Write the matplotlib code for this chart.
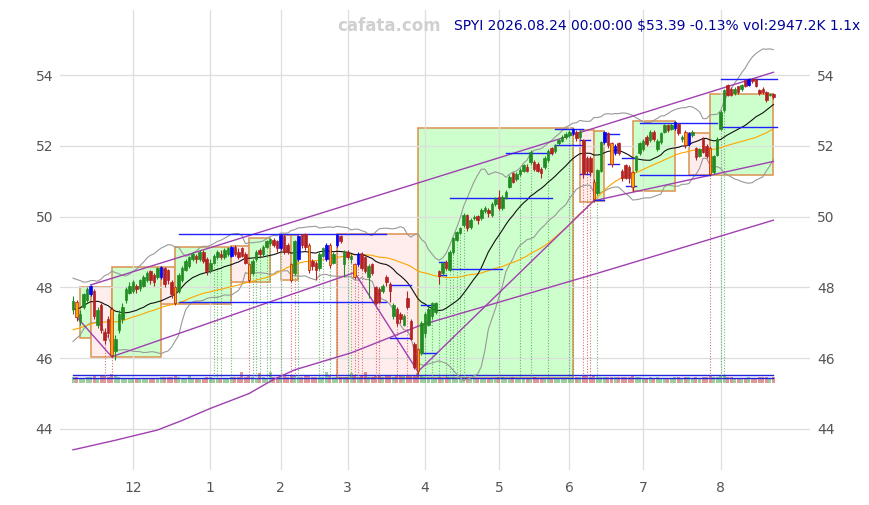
import matplotlib
matplotlib.use("Agg")
import matplotlib.pyplot as plt
from matplotlib.patches import Rectangle
import numpy as np
import pandas as pd

# ---------------- data ----------------
title_text = "SPYI 2026.08.24 00:00:00 $53.39 -0.13% vol:2947.2K 1.1x"
watermark = "cafata.com"
last_day = "2026-08-24"
n_sessions = 200
holidays = ["2025-11-27", "2025-12-25", "2026-01-01", "2026-01-19", "2026-02-16",
            "2026-04-03", "2026-05-25", "2026-06-19", "2026-07-03"]

opens = [
    47.40, 47.60, 47.05, 47.45, 47.65, 47.80, 47.90, 46.95, 47.50, 46.75,
    47.10, 47.40, 46.20, 46.80, 47.10, 47.65, 47.85, 47.90, 48.05, 47.98,
    48.05, 48.20, 48.45, 48.35, 48.30, 48.30, 48.55, 48.50, 48.15, 48.00,
    47.90, 48.20, 48.50, 48.60, 48.80, 48.90, 48.80, 49.00, 48.80, 48.50,
    48.70, 48.85, 48.95, 48.85, 48.95, 48.90, 49.15, 49.00, 49.10, 48.95,
    48.65, 48.40, 48.80, 49.05, 48.95, 49.15, 49.25, 49.35, 49.30, 49.10,
    49.45, 49.20, 48.65, 48.40, 48.80, 49.50, 49.50, 49.20, 48.75, 48.70,
    48.55, 48.90, 48.80, 49.20, 48.70, 49.20, 49.45, 48.65, 49.00, 48.80,
    48.65, 48.65, 48.95, 48.85, 48.30, 48.65, 48.00, 47.95, 47.90, 48.30,
    48.10, 47.20, 47.40, 47.25, 46.95, 47.70, 47.05, 46.40, 46.25, 46.15,
    46.70, 46.95, 47.20, 47.30, 48.45, 48.40, 48.73, 48.50, 49.00, 49.34,
    49.53, 49.76, 50.05, 49.70, 49.95, 50.02, 49.95, 50.15, 50.20, 50.05,
    50.35, 50.55, 50.25, 50.55, 50.85, 51.22, 51.05, 51.20, 51.30, 51.40,
    51.55, 51.55, 51.50, 51.36, 51.41, 51.60, 51.93, 51.85, 52.07, 52.15,
    52.25, 52.30, 52.35, 52.40, 52.25, 52.16, 51.65, 51.65, 50.99, 50.66,
    51.30, 52.12, 52.35, 52.07, 51.80, 52.07, 51.30, 51.45, 51.40, 51.25,
    51.32, 51.79, 51.90, 52.25, 52.17, 52.40, 51.90, 52.10, 52.40, 52.58,
    52.48, 52.50, 52.62, 52.20, 52.40, 52.05, 52.30, 51.93, 51.72, 52.20,
    52.00, 51.95, 51.25, 51.75, 52.49, 53.01, 53.72, 53.60, 53.50, 53.68,
    53.60, 53.85, 53.72, 53.90, 53.90, 53.58, 53.60, 53.53, 53.44, 53.47,
]
closes = [
    47.62, 47.15, 47.25, 47.80, 47.95, 48.05, 47.20, 47.35, 46.80, 46.50,
    46.70, 46.10, 46.55, 47.25, 47.45, 47.95, 48.05, 48.15, 47.95, 48.20,
    48.30, 48.40, 48.20, 48.15, 48.55, 48.57, 48.10, 48.20, 47.80, 47.55,
    48.35, 48.55, 48.75, 48.85, 48.95, 48.80, 49.00, 48.75, 48.45, 48.70,
    48.90, 49.00, 48.85, 49.05, 49.10, 49.15, 48.95, 48.85, 48.90, 48.70,
    48.20, 48.75, 49.00, 48.95, 49.15, 49.30, 49.38, 49.20, 49.10, 49.48,
    49.00, 49.00, 48.20, 49.30, 49.45, 49.20, 49.15, 48.50, 48.60, 48.50,
    48.95, 49.10, 49.20, 48.63, 48.95, 49.48, 49.30, 49.00, 48.85, 48.90,
    48.30, 48.95, 48.55, 48.45, 48.60, 48.40, 47.55, 47.60, 48.05, 48.15,
    47.90, 47.50, 47.00, 47.10, 47.20, 47.45, 46.55, 45.75, 45.65, 47.00,
    47.25, 47.40, 47.55, 47.55, 48.32, 48.68, 48.54, 49.00, 49.39, 49.57,
    49.67, 50.05, 49.67, 49.90, 50.00, 49.90, 50.20, 50.25, 50.10, 50.35,
    50.50, 50.25, 50.55, 50.70, 51.13, 50.99, 51.20, 51.32, 51.45, 51.30,
    51.83, 51.36, 51.30, 51.22, 51.65, 51.85, 51.80, 52.02, 52.16, 52.26,
    52.33, 52.40, 52.49, 52.21, 52.40, 51.20, 51.30, 51.25, 50.50, 51.32,
    52.10, 52.40, 52.02, 51.50, 52.00, 51.79, 51.08, 51.10, 51.10, 50.85,
    51.70, 52.07, 52.15, 52.05, 52.40, 52.20, 52.15, 52.35, 52.59, 52.45,
    52.60, 52.68, 52.35, 52.25, 52.02, 52.37, 52.40, 51.69, 51.90, 51.83,
    51.70, 51.20, 51.70, 52.20, 52.96, 53.58, 53.44, 53.45, 53.62, 53.52,
    53.72, 53.70, 53.89, 53.82, 53.70, 53.50, 53.52, 53.29, 53.46, 53.39,
]
highs = [
    47.75, 47.65, 47.35, 47.85, 48.00, 48.07, 47.95, 47.45, 47.55, 46.85,
    47.20, 47.45, 46.65, 47.35, 47.55, 48.00, 48.15, 48.20, 48.10, 48.25,
    48.35, 48.45, 48.50, 48.40, 48.58, 48.60, 48.58, 48.52, 48.20, 48.05,
    48.40, 48.60, 48.80, 48.90, 49.00, 48.95, 49.05, 49.05, 48.85, 48.80,
    48.95, 49.05, 49.05, 49.10, 49.15, 49.17, 49.20, 49.10, 49.15, 49.00,
    48.70, 48.80, 49.05, 49.10, 49.20, 49.35, 49.39, 49.40, 49.35, 49.50,
    49.50, 49.25, 48.70, 49.35, 49.48, 49.52, 49.55, 49.25, 48.80, 48.75,
    49.00, 49.15, 49.25, 49.25, 49.00, 49.50, 49.48, 49.05, 49.05, 48.95,
    48.70, 49.00, 49.00, 48.90, 48.65, 48.70, 48.05, 48.00, 48.10, 48.35,
    48.15, 47.55, 47.45, 47.30, 47.25, 47.90, 47.10, 46.45, 46.30, 47.05,
    47.30, 47.45, 47.60, 47.60, 48.50, 48.72, 48.78, 49.05, 49.42, 49.60,
    49.70, 50.10, 50.08, 49.95, 50.05, 50.05, 50.25, 50.30, 50.25, 50.40,
    50.55, 50.75, 50.60, 50.75, 51.18, 51.25, 51.25, 51.38, 51.50, 51.48,
    51.88, 51.60, 51.55, 51.40, 51.70, 51.90, 51.96, 52.05, 52.20, 52.30,
    52.38, 52.45, 52.51, 52.45, 52.45, 52.20, 51.70, 51.70, 51.05, 51.35,
    52.15, 52.43, 52.40, 52.10, 52.05, 52.10, 51.35, 51.50, 51.45, 51.30,
    51.75, 52.10, 52.20, 52.30, 52.45, 52.45, 52.20, 52.40, 52.63, 52.62,
    52.65, 52.70, 52.66, 52.30, 52.45, 52.40, 52.45, 51.98, 51.95, 52.25,
    52.05, 52.00, 51.75, 52.25, 53.00, 53.60, 53.75, 53.65, 53.65, 53.70,
    53.75, 53.88, 53.91, 53.92, 53.92, 53.62, 53.65, 53.56, 53.50, 53.50,
]
lows = [
    47.25, 47.05, 46.95, 47.40, 47.60, 47.75, 47.10, 46.85, 46.70, 46.40,
    46.60, 46.04, 45.95, 46.70, 47.00, 47.55, 47.80, 47.85, 47.85, 47.90,
    48.00, 48.15, 48.10, 48.05, 48.25, 48.25, 48.00, 48.10, 47.70, 47.50,
    47.85, 48.15, 48.45, 48.55, 48.75, 48.70, 48.75, 48.70, 48.35, 48.40,
    48.65, 48.80, 48.80, 48.80, 48.90, 48.85, 48.90, 48.80, 48.85, 48.65,
    48.16, 48.35, 48.75, 48.85, 48.90, 49.10, 49.20, 49.15, 49.00, 49.05,
    48.95, 48.95, 48.15, 48.35, 48.75, 49.10, 49.05, 48.40, 48.50, 48.20,
    48.50, 48.85, 48.75, 48.55, 48.65, 49.15, 49.25, 48.30, 48.80, 48.70,
    48.25, 48.60, 48.50, 48.40, 47.70, 48.35, 47.50, 47.55, 47.85, 48.05,
    47.60, 47.10, 46.90, 47.00, 46.90, 47.40, 46.50, 45.70, 45.55, 46.10,
    46.60, 46.90, 47.10, 47.25, 48.10, 48.35, 48.50, 48.45, 48.95, 49.30,
    49.50, 49.72, 49.60, 49.65, 49.90, 49.80, 49.90, 50.10, 50.00, 50.00,
    50.30, 50.20, 50.20, 50.50, 50.80, 50.95, 51.00, 51.15, 51.25, 51.25,
    51.50, 51.30, 51.25, 51.10, 51.35, 51.55, 51.75, 51.80, 52.02, 52.10,
    52.20, 52.25, 52.30, 52.15, 52.20, 51.10, 51.20, 51.15, 50.42, 50.60,
    51.25, 52.05, 51.95, 51.40, 51.75, 51.75, 51.00, 51.05, 50.95, 50.72,
    51.25, 51.75, 51.85, 52.00, 52.10, 52.15, 51.85, 52.05, 52.35, 52.40,
    52.45, 52.45, 52.30, 52.10, 51.95, 52.00, 52.25, 51.60, 51.68, 51.80,
    51.65, 51.17, 51.20, 51.70, 52.45, 52.95, 53.40, 53.40, 53.45, 53.48,
    53.55, 53.65, 53.68, 53.78, 53.65, 53.45, 53.48, 53.25, 53.40, 53.32,
]
volumes_k = [
    2800, 3100, 2600, 2500, 2900, 3300, 3600, 2700, 3400, 3900,
    3200, 4600, 3500, 2900, 2600, 2400, 2500, 2300, 2200, 2600,
    2400, 2300, 2700, 2500, 2600, 2800, 3100, 2900, 3200, 3500,
    3000, 2700, 2600, 3800, 2500, 2400, 2300, 2600, 2900, 2800,
    2600, 2500, 2700, 2400, 2600, 2800, 3000, 3100, 5800, 3200,
    3400, 3000, 2700, 5200, 2800, 2600, 5600, 2900, 3100, 3300,
    3500, 3000, 3800, 3400, 3100, 3300, 3600, 3900, 3200, 3000,
    2900, 3100, 5900, 3400, 3300, 3200, 3000, 3100, 2800, 5500,
    3600, 3300, 3500, 5700, 3000, 3200, 3900, 3700, 3100, 3400,
    3800, 3300, 4100, 3600, 3400, 3700, 4200, 4400, 5200, 3600,
    3200, 3000, 2800, 2700, 2900, 2600, 2800, 3100, 2900, 2700,
    2600, 2800, 3000, 2500, 2400, 2600, 2700, 2300, 2500, 2600,
    2700, 2900, 2800, 2600, 2700, 2900, 2500, 2400, 2300, 2500,
    2600, 2800, 2700, 2600, 2500, 2400, 2600, 2500, 2300, 2400,
    2500, 2600, 2700, 2900, 2800, 3800, 3400, 3300, 3900, 3000,
    2900, 2800, 3000, 3200, 2900, 3100, 3300, 3000, 3100, 3400,
    2900, 2800, 2700, 2600, 2800, 2700, 2900, 2600, 2500, 2700,
    2600, 2800, 2900, 2700, 3000, 2800, 2600, 2900, 2700, 3000,
    3100, 3500, 2900, 3200, 3600, 3800, 3000, 2800, 2600, 2700,
    2500, 2700, 2800, 2600, 2700, 2900, 2800, 3000, 2700, 2947.2,
]
volume_ref_levels_k = [2500, 4050]
# closes of the 49 sessions before the window (warm-up for the averages)
prior_closes = [
    46.0, 45.9, 46.1, 46.2, 46.0, 46.3, 46.4, 46.2, 46.1, 46.3,
    46.5, 46.4, 46.6, 46.5, 46.3, 46.2, 46.4, 46.6, 46.7, 46.5,
    46.4, 46.6, 46.8, 46.7, 46.5, 46.6, 46.8, 46.9, 46.7, 46.8,
    46.6, 46.7, 46.5, 46.8, 47.0, 47.2, 47.1, 47.4, 47.6, 47.5,
    47.8, 47.9, 47.7, 47.9, 48.0, 47.8, 47.6, 47.4, 47.2,
]
blue_bars = [5, 25, 45, 59, 64, 72, 75, 81, 142, 151, 154, 171, 175, 192]
orange_bars = [1, 11, 29, 50, 62, 67, 73, 80, 98, 148, 153, 159, 174, 181]
# (start index, end index, top, bottom, direction)
boxes = [
    (2, 5, 48.02, 46.56, "up"), (5, 11, 48.02, 46.04, "down"),
    (11, 25, 48.57, 46.04, "up"), (25, 29, 48.57, 47.53, "down"),
    (29, 45, 49.15, 47.53, "up"), (45, 50, 49.17, 48.16, "down"),
    (50, 56, 49.39, 48.16, "up"), (59, 62, 49.48, 48.20, "down"),
    (62, 64, 49.48, 48.20, "up"), (75, 98, 49.50, 45.45, "down"),
    (98, 142, 52.50, 45.45, "up"), (144, 148, 52.45, 50.42, "down"),
    (148, 151, 52.43, 50.45, "up"), (159, 171, 52.70, 50.72, "up"),
    (175, 181, 52.37, 51.17, "down"), (181, 199, 53.48, 51.17, "up"),
]
# (start index, end index, price)
level_lines = [
    (30, 89, 49.50), (30, 89, 47.58), (90, 96, 48.06), (90, 96, 46.56),
    (99, 103, 47.50), (99, 103, 46.14), (104, 106, 48.71), (104, 106, 48.35),
    (107, 122, 48.52), (107, 136, 50.52), (123, 136, 51.80),
    (137, 145, 52.47), (137, 145, 52.02), (144, 147, 52.16), (144, 147, 51.20),
    (148, 151, 50.47), (151, 155, 52.33), (152, 155, 51.50), (156, 160, 51.67),
    (157, 160, 50.86), (161, 183, 52.66), (161, 181, 51.17),
    (184, 200, 53.90), (184, 200, 52.52),
]
upper_trend = [(5, 48.07), (199, 54.08)]
pivot_path = [(1, 47.17), (11, 46.04), (80, 48.42), (98, 45.62), (148, 50.45), (199, 51.56)]
long_curve = [(0, 43.41), (12, 43.68), (24, 43.97), (31, 44.24), (39, 44.58), (50, 45.00),
              (57, 45.40), (63, 45.67), (79, 46.15), (99, 46.94), (149, 48.40), (199, 49.90)]
red_signals = [9, 11, 50, 62, 63, 75, 80, 81, 82, 86, 87, 92, 95, 145, 146, 147, 181]
green_signals = [40, 41, 42, 45, 51, 52, 53, 55, 56, 59, 64, 70, 71, 73, 78, 79, 100, 102,
                 104, 106, 107, 108, 109, 110, 111, 121, 127, 130, 135, 141, 142, 149, 184, 185]
y_ticks = [44, 46, 48, 50, 52, 54]

# ---------------- figure ----------------
W, H = 870, 505
fig = plt.figure(figsize=(W / 100, H / 100), dpi=100)
ax = fig.add_axes([60 / W, 35 / H, 750 / W, 460 / H])

dates = pd.bdate_range(end=last_day, periods=n_sessions, freq="C", holidays=holidays)
x = np.arange(n_sessions)
O = np.array(opens); C = np.array(closes); Hh = np.array(highs); L = np.array(lows)
V = np.array(volumes_k)

UP = "#228b22"; DN = "#b22222"
up = C >= O
base_col = np.where(up, UP, DN)

# boxes
for s, e, top, bot, kind in boxes:
    fc = "#ccffcc" if kind == "up" else "#ffeded"
    ax.add_patch(Rectangle((s, bot), e - s, top - bot, facecolor=fc, edgecolor="#dc9a5c",
                           linewidth=1.2, zorder=0.2))

# volume
vol_base = 45.31
vol_scale = 0.14 / 2700.0
ax.bar(x, V * vol_scale, bottom=vol_base, width=0.85,
       color=np.where(up, "#3c9f3c", "#c03030"), alpha=0.5, zorder=1.2, linewidth=0)
for lvl in volume_ref_levels_k:
    ax.plot([x[0], x[-1]], [vol_base + lvl * vol_scale] * 2, color="#2222dd", lw=1.0, zorder=1.3)

# signal dotted lines
for i in red_signals:
    ax.plot([i, i], [L[i], 45.45], color="#d05050", lw=0.8, ls=(0, (1, 1.5)), alpha=0.8, zorder=1.4)
for i in green_signals:
    ax.plot([i, i], [L[i], 45.45], color="#4aa84a", lw=0.8, ls=(0, (1, 1.5)), alpha=0.8, zorder=1.4)

# moving averages / bands
full = pd.Series(prior_closes + closes)
k = len(prior_closes)
sma20 = full.rolling(20).mean().iloc[k:].values
sd20 = full.rolling(20).std(ddof=0).iloc[k:].values
sma50 = full.rolling(50).mean().iloc[k:].values
ax.plot(x, sma20 + 2 * sd20, color="#999999", lw=0.8, zorder=2)
ax.plot(x, sma20 - 2 * sd20, color="#999999", lw=0.8, zorder=2)
ax.plot(x, sma50, color="#ffa500", lw=0.8, zorder=2.1)
ax.plot(x, sma20, color="#111111", lw=0.8, zorder=2.2)

# purple lines
PUR = "#a040b0"
for pts in (upper_trend, pivot_path, long_curve):
    px, py = zip(*pts)
    ax.plot(px, py, color=PUR, lw=1.0, zorder=2.5)

# level lines
for s, e, p in level_lines:
    ax.plot([s, e], [p, p], color="#1f1fff", lw=1.0, zorder=2.6)

# candles
face = list(base_col); edge = list(base_col); wick = list(base_col)
for i in blue_bars:
    face[i] = edge[i] = wick[i] = "#0000ff"
for i in orange_bars:
    face[i] = "#ffa500"
ax.vlines(x, L, Hh, colors=wick, lw=0.8, zorder=3)
ax.bar(x, np.maximum(np.abs(C - O), 0.03), bottom=np.minimum(O, C), width=0.72,
       color=face, edgecolor=edge, linewidth=0.5, zorder=3.5)

# axes styling
ax.set_xlim(-3.7, 209.4)
ax.set_ylim(42.84, 55.84)
month_idx = [i for i in range(1, n_sessions) if dates[i].month != dates[i - 1].month]
ax.set_xticks(month_idx)
ax.set_xticklabels([str(dates[i].month) for i in month_idx])
ax.set_yticks(y_ticks)
ax.set_yticklabels([str(t) for t in y_ticks])
ax.grid(True, color="#dddddd", lw=0.9)
ax.set_axisbelow(True)
for sp in ax.spines.values():
    sp.set_visible(False)
ax.tick_params(axis="both", length=0, labelsize=10, colors="#555555")
ax.tick_params(axis="y", left=False, right=False, labelleft=True, labelright=True, pad=5)
ax.tick_params(axis="x", pad=8)

fig.text(389 / W, 1 - 26 / H, watermark, ha="center", va="center", fontsize=12,
         fontweight="bold", color="#d0d0d0")
fig.text(860 / W, 1 - 26 / H, title_text, ha="right", va="center", fontsize=10, color="#000099")

fig.savefig("out.png", dpi=100)
